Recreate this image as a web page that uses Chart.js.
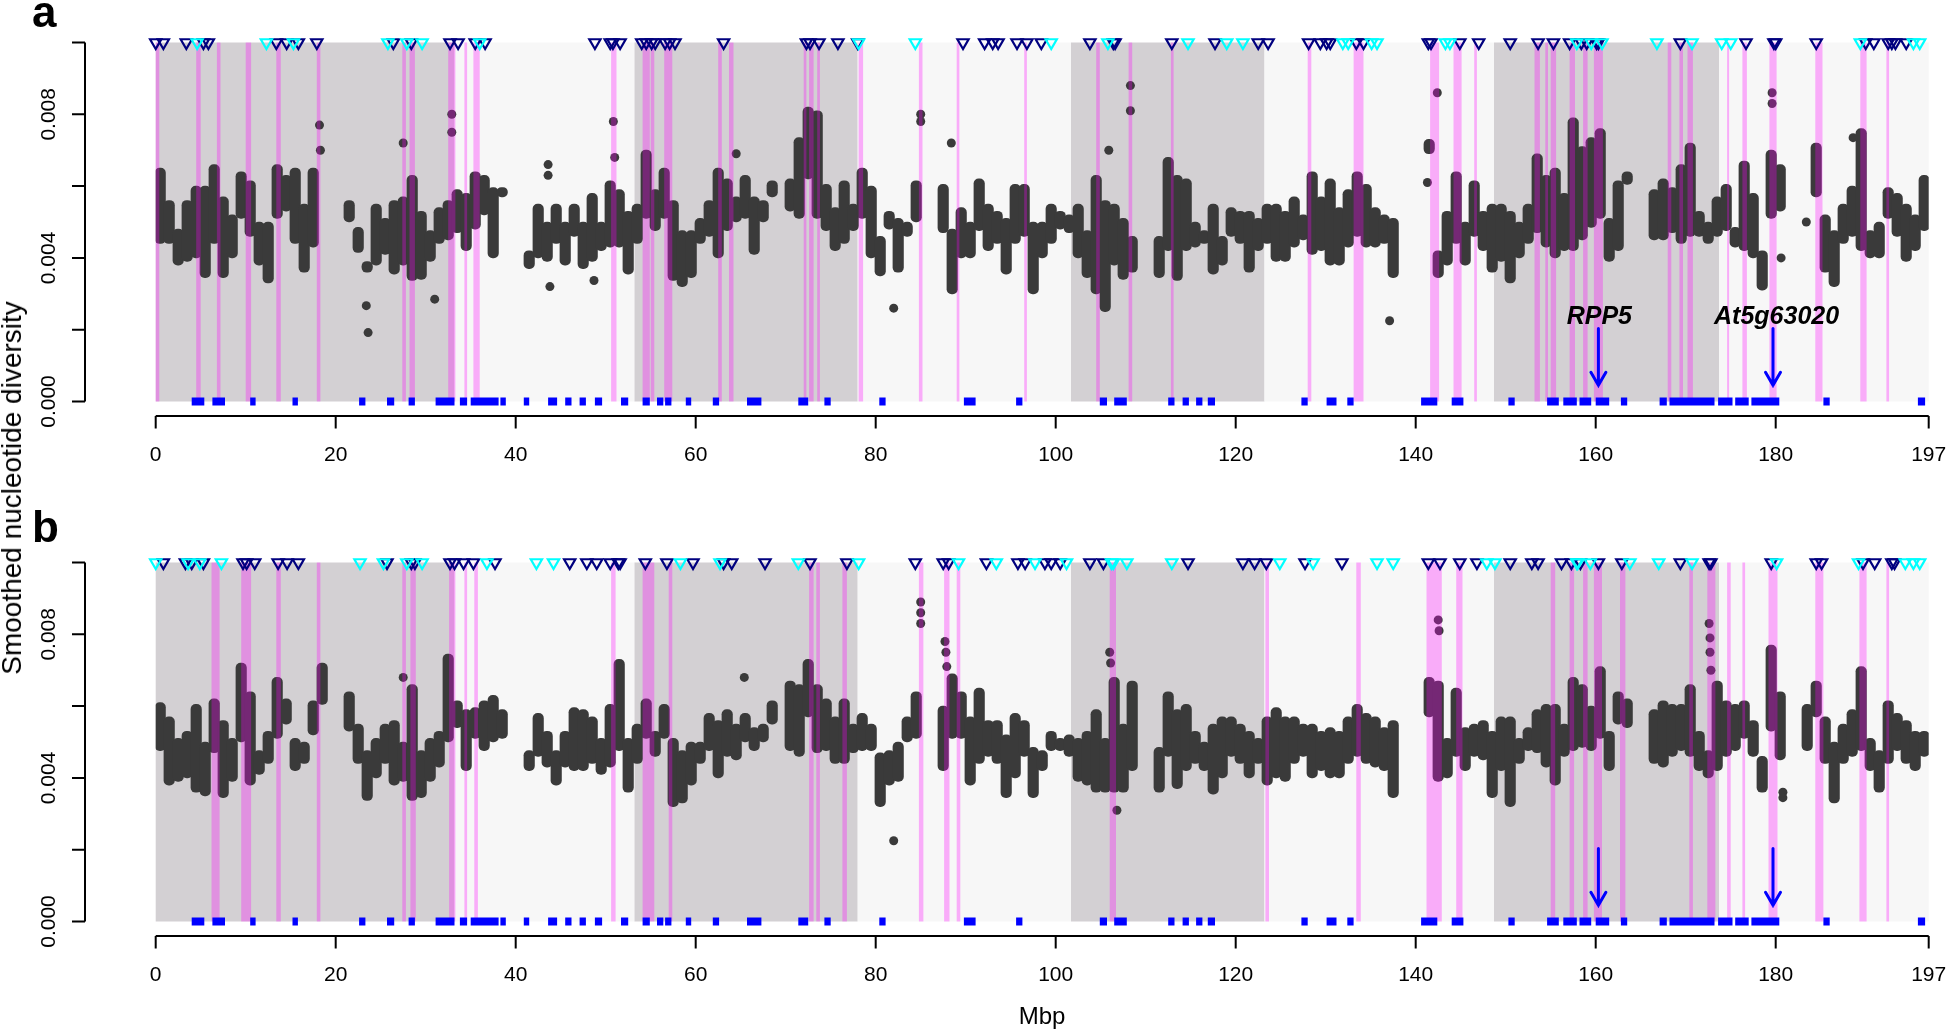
<!DOCTYPE html>
<html>
<head>
<meta charset="utf-8">
<script src="https://cdn.jsdelivr.net/npm/chart.js@4.4.1/dist/chart.umd.min.js"></script>
<style>
  html, body { margin: 0; padding: 0; background: #fff; }
  #fig { position: relative; width: 1946px; height: 1033px; overflow: hidden;
         font-family: "Liberation Sans", Arial, sans-serif; color: #000; }
  canvas { position: absolute; left: 0; }
  #ca { top: 0; }
  #cb { top: 520px; }
  .tag { position: absolute; left: 32px; font-size: 44px; font-weight: bold; line-height: 1; }
  .centered { position: absolute; white-space: nowrap; line-height: 1; transform: translate(-50%, -50%); }
  #ylab { left: 12px; top: 488px; font-size: 28px; transform: translate(-50%, -50%) rotate(-90deg); }
  #xlab { left: 1042px; top: 1016px; font-size: 24px; }
</style>
</head>
<body>
<div id="fig">
  <canvas id="ca" width="1946" height="513"></canvas>
  <canvas id="cb" width="1946" height="513"></canvas>
  <div class="tag" style="top:-10px">a</div>
  <div class="tag" style="top:505px">b</div>
  <div id="ylab" class="centered">Smoothed nucleotide diversity</div>
  <div id="xlab" class="centered">Mbp</div>
</div>
<script>
// axes
const xMin = 0, xMax = 197, yMax = 0.010;
const xTicks = [0, 20, 40, 60, 80, 100, 120, 140, 160, 180, 197];
const yTicks = [0, 0.002, 0.004, 0.006, 0.008, 0.010];
const yTickLabels = ['0.000', '', '0.004', '', '0.008', ''];

// chromosome shading boundaries (Mbp)
const chromBounds = [0, 33.2, 53.2, 78.0, 101.7, 123.2, 148.7, 173.7, 197];

// smoothed diversity, per 1 Mbp bin, low and high of the point cloud (x 1e-3)
const aLo = [4.4, 4.4, 3.8, 3.9, 4.0, 3.45, 4.4, 3.45, 4.0, 5.1,
  4.6, 3.8, 3.3, 5.1, 5.3, 4.4, 3.6, 4.3, null, null,
  null, 5.0, 4.15, 3.6, 3.8, 4.1, 3.55, 3.8, 3.37, 3.4,
  3.9, 4.4, 4.5, 4.7, 4.2, 4.8, 5.2, 4.0, 5.7, null,
  null, 3.7, 4.0, 3.9, 4.4, 3.8, 4.6, 3.7, 3.9, 4.2,
  4.3, 4.3, 3.55, 4.4, 5.1, 4.76, 5.1, 3.37, 3.2, 3.45,
  4.4, 4.6, 4.0, 4.76, 5.0, 5.1, 4.1, 5.0, 5.7, null,
  5.3, 5.1, 6.2, 5.1, 4.76, 4.2, 4.4, 4.76, 5.1, 4.0,
  3.5, 4.8, 3.6, 4.6, 5.0, null, null, 4.7, 3.0, 4.0,
  4.0, 4.76, 4.2, 4.4, 3.55, 4.4, 4.6, 3.0, 4.0, 4.4,
  4.8, 4.7, 4.0, 3.45, 3.0, 2.5, 3.8, 3.4, 3.6, null,
  null, 3.45, 4.2, 3.37, 4.2, 4.3, 4.4, 3.55, 3.8, 4.6,
  4.4, 3.6, 4.2, 4.4, 3.9, 3.9, 4.3, 4.5, 4.1, 4.2,
  3.8, 3.8, 4.3, 4.6, 4.3, 4.3, 4.4, 3.45, null, null,
  null, 6.9, 3.45, 3.8, 4.4, 3.8, 4.6, 4.2, 3.6, 3.9,
  3.3, 4.0, 4.4, 4.7, 4.3, 4.0, 4.2, 4.2, 4.5, 4.85,
  5.1, 3.9, 4.2, 6.05, null, null, 4.5, 4.5, 4.7, 4.4,
  4.6, 4.6, 4.4, 4.6, 4.76, 4.3, 4.2, 4.0, 3.1, 5.1,
  5.3, null, null, null, 5.7, 3.6, 3.2, 4.4, 4.6, 4.2,
  4.0, 4.0, 5.1, 4.6, 3.9, 4.2, 4.76];
const aHi = [6.5, 5.6, 4.8, 5.6, 6.0, 6.0, 6.6, 5.7, 5.2, 6.4,
  6.15, 5.0, 5.0, 6.6, 6.3, 6.5, 5.5, 6.5, null, null,
  null, 5.6, 4.85, 3.9, 5.5, 5.1, 5.6, 5.7, 6.3, 5.3,
  4.76, 5.4, 5.6, 5.9, 5.8, 6.4, 6.3, 5.96, 5.96, null,
  null, 4.2, 5.5, 5.0, 5.5, 5.0, 5.5, 5.0, 5.8, 5.0,
  6.15, 5.9, 5.3, 5.5, 7.0, 5.9, 6.5, 5.6, 4.76, 4.76,
  5.1, 5.6, 6.5, 6.2, 5.7, 6.3, 5.7, 5.6, 6.15, null,
  6.2, 7.35, 8.2, 8.1, 6.05, 5.4, 6.15, 5.5, 6.5, 6.0,
  4.6, 5.3, 5.1, 5.0, 6.15, null, null, 6.05, 4.8, 5.4,
  5.0, 6.2, 5.5, 5.3, 5.1, 6.05, 6.05, 5.0, 5.0, 5.5,
  5.3, 5.2, 5.5, 4.76, 6.3, 5.6, 5.5, 5.1, 4.6, null,
  null, 4.6, 6.8, 6.3, 6.2, 5.0, 4.76, 5.5, 4.6, 5.4,
  5.3, 5.3, 5.1, 5.5, 5.5, 5.3, 5.7, 5.2, 6.4, 5.7,
  6.2, 5.4, 5.9, 6.4, 6.05, 5.4, 5.2, 5.1, null, null,
  null, 7.3, 4.2, 5.3, 6.4, 5.0, 6.15, 5.3, 5.5, 5.5,
  5.3, 5.0, 5.5, 6.9, 6.3, 6.5, 5.8, 7.9, 7.1, 7.35,
  7.6, 5.1, 6.15, 6.4, null, null, 5.9, 6.2, 5.96, 6.6,
  7.2, 5.3, 5.0, 5.7, 6.05, 4.85, 6.7, 5.8, 4.2, 7.0,
  6.6, null, null, null, 7.2, 5.2, 4.76, 5.5, 6.0, 7.6,
  4.76, 5.0, 5.96, 5.8, 5.5, 5.2, 6.3];
const aOutX = [18.2, 18.3, 23.4, 23.6, 27.5, 31.0, 32.9, 32.9, 43.6, 43.6, 43.8, 48.7, 50.85, 51.0, 64.5,
  82.0, 85.0, 85.0, 88.4, 105.9, 108.3, 108.3, 137.1, 141.3, 142.4, 179.6, 179.6, 180.6, 183.4, 188.6];
const aOutY = [7.7, 7.0, 2.67, 1.92, 7.2, 2.85, 8.0, 7.5, 6.6, 6.3, 3.2, 3.37, 7.8, 6.8, 6.9,
  2.6, 8.0, 7.8, 7.2, 7.0, 8.8, 8.1, 2.25, 6.1, 8.6, 8.6, 8.3, 4.0, 5.0, 7.35];

const bLo = [4.76, 3.8, 3.9, 4.0, 3.6, 3.5, 4.7, 3.45, 3.9, 5.0,
  3.8, 4.1, 4.4, 5.1, 5.5, 4.2, 4.4, 5.2, 6.05, null,
  null, 5.3, 4.4, 3.37, 4.0, 4.4, 3.8, 3.9, 3.37, 3.45,
  3.9, 4.3, 5.0, 5.4, 4.2, 5.1, 4.76, 5.0, 5.1, null,
  null, 4.2, 4.6, 4.3, 3.8, 4.3, 4.2, 4.2, 4.4, 4.1,
  4.3, 4.76, 3.6, 4.4, 5.1, 4.6, 5.1, 3.2, 3.3, 3.8,
  4.4, 4.76, 4.0, 4.6, 4.5, 5.0, 4.76, 5.0, 5.5, null,
  4.76, 4.6, 5.7, 4.7, 4.76, 4.4, 4.4, 4.7, 4.76, 4.76,
  3.2, 3.8, 3.9, 5.0, 5.1, null, null, 4.2, 5.1, 5.1,
  3.8, 4.4, 4.6, 4.4, 3.45, 4.0, 4.6, 3.45, 4.2, 4.76,
  4.76, 4.6, 3.9, 3.8, 3.6, 3.6, 3.6, 3.6, 4.2, null,
  null, 3.6, 4.6, 3.7, 4.2, 4.4, 4.2, 3.55, 4.0, 4.6,
  4.4, 4.0, 4.4, 3.8, 4.0, 3.9, 4.4, 4.6, 4.0, 4.2,
  4.0, 4.0, 4.4, 4.6, 4.4, 4.3, 4.2, 3.45, null, null,
  null, 5.7, 3.9, 4.0, 4.6, 4.2, 4.6, 4.5, 3.45, 4.2,
  3.2, 4.4, 4.76, 4.7, 4.3, 3.8, 4.6, 4.76, 4.85, 4.76,
  5.1, 4.2, 5.5, 5.4, null, null, 4.4, 4.3, 4.6, 4.76,
  4.6, 4.2, 4.0, 4.2, 4.6, 4.76, 5.1, 4.6, 3.6, 5.3,
  4.5, null, null, 4.76, 5.7, 4.4, 3.3, 4.4, 4.6, 4.76,
  4.2, 3.6, 4.4, 4.76, 4.4, 4.2, 4.6];
const bHi = [6.1, 5.7, 5.1, 5.3, 6.05, 5.0, 6.2, 5.6, 5.1, 7.2,
  6.4, 4.76, 5.3, 6.8, 6.2, 5.1, 5.0, 6.15, 7.2, null,
  null, 6.4, 5.5, 4.76, 5.1, 5.5, 5.6, 5.0, 6.6, 4.76,
  5.1, 5.3, 7.45, 6.15, 5.9, 5.96, 6.15, 6.3, 5.9, null,
  null, 4.76, 5.8, 5.3, 4.76, 5.3, 5.96, 5.9, 5.7, 5.1,
  6.05, 7.3, 5.1, 5.5, 6.2, 5.3, 6.05, 5.1, 4.76, 5.0,
  5.0, 5.8, 5.6, 5.9, 5.5, 5.8, 5.4, 5.5, 6.15, null,
  6.7, 6.6, 7.3, 6.6, 6.2, 5.7, 6.2, 5.5, 5.8, 5.5,
  4.7, 4.76, 5.0, 5.7, 6.4, null, null, 6.0, 6.9, 6.4,
  5.7, 6.5, 5.6, 5.6, 5.2, 5.8, 5.6, 4.85, 4.76, 5.3,
  5.1, 5.2, 5.1, 5.3, 5.9, 5.1, 6.8, 5.5, 6.7, null,
  null, 4.85, 6.4, 5.9, 6.05, 5.3, 5.0, 5.5, 5.7, 5.7,
  5.5, 5.3, 5.1, 5.7, 5.96, 5.7, 5.7, 5.5, 5.5, 5.3,
  5.4, 5.3, 5.7, 6.05, 5.8, 5.7, 5.4, 5.6, null, null,
  null, 6.8, 6.7, 5.1, 6.5, 5.4, 5.5, 5.6, 5.3, 5.7,
  5.7, 5.1, 5.4, 5.9, 6.05, 6.05, 5.5, 6.8, 6.6, 6.0,
  7.1, 5.3, 6.4, 6.2, null, null, 5.9, 6.15, 6.05, 6.05,
  6.6, 5.3, 4.76, 6.7, 6.15, 6.05, 6.15, 5.6, 4.6, 7.7,
  6.4, null, null, 6.05, 6.7, 5.7, 5.0, 5.5, 5.9, 7.1,
  5.1, 4.76, 6.15, 5.8, 5.6, 5.3, 5.3];
const bOutX = [27.5, 65.4, 82.0, 85.0, 85.0, 85.0, 87.7, 87.8, 87.9, 106.0, 106.1, 106.8,
  142.5, 142.6, 172.6, 172.7, 172.7, 172.8, 180.8, 180.8];
const bOutY = [6.8, 6.8, 2.25, 8.9, 8.6, 8.3, 7.8, 7.5, 7.1, 7.5, 7.2, 3.1,
  8.4, 8.1, 8.3, 7.9, 7.5, 7.0, 3.6, 3.45];

// top markers (Mbp)
const aNavy = [0.0, 0.85, 3.4, 5.3, 5.85, 13.4, 14.55, 15.85, 17.9, 26.4, 28.4, 32.7, 33.6, 35.5, 36.6,
  48.8, 50.5, 50.8, 51.6, 54.0, 54.5, 55.1, 55.5, 56.6, 57.1, 57.7, 63.1, 72.3, 72.7, 73.7, 75.8, 78.0,
  89.7, 92.1, 93.0, 93.6, 95.7, 96.8, 98.4, 103.8, 106.4, 106.6, 112.9, 117.7, 122.5, 123.6, 128.1,
  129.4, 130.1, 130.5, 133.4, 134.2, 141.4, 141.7, 144.9, 147.0, 150.5, 153.6, 155.3, 157.1, 158.4,
  159.0, 160.1, 160.3, 169.4, 176.7, 179.8, 180.0, 184.5, 190.0, 190.9, 192.5, 192.9, 193.3, 194.5];
const aCyan = [4.6, 12.3, 15.3, 25.8, 27.9, 29.6, 36.0, 78.1, 84.4, 99.5, 105.8, 114.7, 119.0, 120.8,
  131.9, 132.5, 135.1, 135.7, 143.3, 143.8, 157.9, 159.5, 160.7, 166.8, 170.7, 174.0, 175.0, 189.4,
  195.3, 196.0];
const bNavy = [0.85, 3.3, 4.0, 5.3, 9.7, 10.1, 11.0, 13.6, 14.6, 15.85, 25.7, 28.4, 28.8, 32.7, 33.2,
  34.2, 35.3, 37.7, 46.0, 47.9, 49.0, 50.5, 51.4, 51.6, 54.4, 56.8, 59.7, 63.1, 64.0, 67.7, 72.7, 76.8,
  84.4, 87.5, 88.1, 92.3, 95.8, 96.6, 98.8, 99.5, 100.5, 103.8, 105.3, 114.7, 120.8, 122.1, 123.4,
  127.7, 131.8, 141.4, 142.7, 144.9, 146.8, 150.5, 152.9, 153.6, 156.2, 157.3, 158.3, 160.3, 162.9,
  169.4, 172.6, 172.8, 179.5, 184.5, 185.1, 189.7, 191.0, 192.9, 193.2];
const bCyan = [0.0, 3.6, 4.9, 7.3, 22.7, 25.3, 27.9, 29.6, 36.8, 42.3, 44.2, 58.3, 62.7, 71.4, 78.1,
  89.2, 93.4, 97.7, 101.2, 106.2, 106.4, 107.9, 112.9, 124.9, 128.6, 135.7, 137.5, 147.9, 148.8, 157.9,
  158.0, 159.4, 163.8, 167.0, 170.7, 180.1, 189.2, 194.4, 195.3, 196.0];

// highlighted windows (Mbp)
const aBands = [[0, 0.4], [4.5, 5.0], [6.8, 7.2], [10.0, 10.6], [13.4, 13.9], [17.9, 18.3], [27.4, 27.8],
  [28.2, 28.8], [32.5, 33.3], [34.3, 34.6], [35.3, 36.0], [50.6, 51.2], [54.1, 54.9], [55.0, 55.4],
  [56.5, 57.4], [62.5, 62.9], [63.7, 64.2], [72.0, 72.3], [72.6, 73.1], [73.5, 73.8], [78.1, 78.6],
  [84.8, 85.2], [89.0, 89.3], [96.5, 96.8], [104.5, 104.9], [108.1, 108.5], [112.8, 113.1],
  [128.0, 128.4], [133.1, 134.2], [141.6, 142.6], [144.2, 145.1], [146.5, 146.8], [153.2, 153.8],
  [154.4, 154.7], [155.0, 155.6], [157.1, 157.7], [158.6, 159.1], [159.8, 160.8], [168.0, 168.4],
  [169.3, 169.7], [170.2, 170.8], [174.6, 174.8], [176.3, 176.8], [179.3, 180.1], [184.4, 185.2],
  [189.4, 190.1], [192.3, 192.6]];
const bBands = [[6.2, 7.1], [9.5, 10.6], [13.4, 13.9], [17.9, 18.3], [27.4, 27.8], [28.3, 28.9],
  [32.6, 33.3], [34.3, 34.6], [35.4, 35.8], [50.6, 51.1], [54.1, 55.4], [57.0, 57.4], [72.6, 73.1],
  [73.4, 73.8], [76.3, 76.8], [84.8, 85.3], [87.6, 88.2], [89.0, 89.4], [106.0, 106.7], [123.3, 123.7],
  [133.4, 133.9], [141.2, 142.9], [144.5, 145.2], [155.0, 155.5], [157.1, 157.6], [158.6, 159.1],
  [159.8, 160.7], [162.7, 163.3], [170.4, 170.8], [172.4, 173.3], [174.6, 175.0], [176.3, 176.6],
  [179.2, 180.2], [184.4, 185.3], [189.3, 190.1], [192.3, 192.6]];

// blue blocks along the baseline (Mbp)
const blocks = [[4.0, 5.4], [6.3, 7.7], [10.5, 11.1], [15.2, 15.8], [22.6, 23.3], [25.7, 26.5], [28.1, 28.8],
  [31.1, 33.2], [33.8, 34.6], [35.0, 38.1], [38.3, 38.9], [40.9, 41.5], [43.6, 44.6], [45.5, 46.2],
  [47.1, 47.8], [48.8, 49.6], [51.7, 52.5], [54.1, 54.9], [55.7, 56.4], [56.6, 57.3], [58.9, 59.5],
  [61.9, 62.6], [65.7, 67.3], [71.4, 72.5], [74.3, 75.0], [80.4, 81.1], [89.8, 91.1], [95.6, 96.3],
  [104.9, 105.7], [106.5, 107.9], [112.5, 113.2], [114.1, 114.8], [115.6, 116.3], [116.9, 117.7],
  [127.3, 128.0], [130.1, 131.2], [132.4, 133.1], [140.6, 142.4], [144.0, 145.3], [150.3, 151.0],
  [154.6, 155.9], [156.4, 157.9], [158.2, 159.5], [160.0, 161.5], [162.8, 163.5], [167.1, 167.9],
  [168.2, 173.2], [173.6, 175.2], [175.5, 177.0], [177.3, 180.4], [185.3, 186.0], [195.8, 196.6]];

// genes
const geneNames = ['RPP5', 'At5g63020'];
const geneX = [160.3, 179.7];
const geneLabelX = [160.4, 180.1];
const geneLabelY = 0.00235;
const arrowFrom = 0.00203, arrowTo = 0.00045;

const dotColor = '#3a3a3a';

const px = (chart, v) => chart.scales.x.getPixelForValue(v);
const py = (chart, v) => chart.scales.y.getPixelForValue(v);

const backdrop = {
  id: 'backdrop',
  beforeDatasetsDraw(chart) {
    const ctx = chart.ctx;
    const yTop = py(chart, yMax), yBot = py(chart, 0);
    ctx.save();
    for (let i = 0; i < chromBounds.length - 1; i++) {
      ctx.fillStyle = i % 2 === 0 ? '#d3d0d3' : '#f7f7f7';
      const x0 = px(chart, chromBounds[i]), x1 = px(chart, chromBounds[i + 1]);
      ctx.fillRect(x0, yTop, x1 - x0, yBot - yTop);
    }
    ctx.restore();
  }
};

// bands go over the dots but under the triangles
const highlights = {
  id: 'highlights',
  afterDatasetDraw(chart, args, opts) {
    if (args.index !== 2) return;
    const ctx = chart.ctx;
    const yTop = py(chart, yMax), y0 = py(chart, 0);
    ctx.save();
    ctx.fillStyle = 'rgba(255, 0, 255, 0.3)';
    opts.bands.forEach(([a, b]) => {
      const x0 = px(chart, a), x1 = px(chart, b);
      ctx.fillRect(x0, yTop, Math.max(x1 - x0, 2), y0 - yTop);
    });
    ctx.fillStyle = '#0000ff';
    blocks.forEach(([a, b]) => {
      const x0 = px(chart, a), x1 = px(chart, b);
      ctx.fillRect(x0, y0 - 4, x1 - x0, 8);
    });
    ctx.restore();
  },
  afterDatasetsDraw(chart, args, opts) {
    const ctx = chart.ctx;
    ctx.save();
    ctx.strokeStyle = '#0000ff';
    ctx.lineWidth = 3;
    ctx.lineCap = 'round';
    geneX.forEach(g => {
      const x = px(chart, g), ys = py(chart, arrowFrom), ye = py(chart, arrowTo);
      ctx.beginPath();
      ctx.moveTo(x, ys); ctx.lineTo(x, ye);
      ctx.moveTo(x - 7.5, ye - 13); ctx.lineTo(x, ye); ctx.lineTo(x + 7.5, ye - 13);
      ctx.stroke();
    });
    if (opts.genes) {
      ctx.fillStyle = '#000';
      ctx.font = 'italic bold 25px "Liberation Sans", Arial, sans-serif';
      ctx.textAlign = 'center';
      ctx.textBaseline = 'middle';
      geneNames.forEach((n, i) => ctx.fillText(n, px(chart, geneLabelX[i]), py(chart, geneLabelY)));
    }
    ctx.restore();
  }
};

// R style axes, set off from the plot region
const rAxes = {
  id: 'rAxes',
  afterDraw(chart) {
    const ctx = chart.ctx, area = chart.chartArea;
    const xa = area.bottom + 14.5;
    const ya = area.left - 70.7;
    ctx.save();
    ctx.strokeStyle = '#000';
    ctx.fillStyle = '#000';
    ctx.lineWidth = 2;
    ctx.beginPath();
    ctx.moveTo(px(chart, xMin), xa); ctx.lineTo(px(chart, xMax), xa);
    xTicks.forEach(t => { const x = px(chart, t); ctx.moveTo(x, xa); ctx.lineTo(x, xa + 12.5); });
    ctx.moveTo(ya, py(chart, 0)); ctx.lineTo(ya, py(chart, yMax));
    yTicks.forEach(t => { const y = py(chart, t); ctx.moveTo(ya, y); ctx.lineTo(ya - 13, y); });
    ctx.stroke();
    ctx.font = '21px "Liberation Sans", Arial, sans-serif';
    ctx.textAlign = 'center';
    ctx.textBaseline = 'middle';
    xTicks.forEach(t => ctx.fillText(String(t), px(chart, t), xa + 39));
    yTicks.forEach((t, i) => {
      if (!yTickLabels[i]) return;
      ctx.save();
      ctx.translate(ya - 30, py(chart, t));
      ctx.rotate(-Math.PI / 2);
      ctx.textBaseline = 'alphabetic';
      ctx.fillText(yTickLabels[i], 0, 0);
      ctx.restore();
    });
    ctx.restore();
  }
};

function drawPanel(id, lo, hi, outX, outY, navy, cyan, bands, genes) {
  const ranges = [];
  lo.forEach((v, i) => {
    if (v !== null) ranges.push({ x: i + 0.5, y: [v / 1000, hi[i] / 1000] });
  });
  const outliers = outX.map((x, i) => ({ x: x, y: outY[i] / 1000 }));
  const tri = xs => xs.map(x => ({ x: x, y: yMax }));
  const triStyle = color => ({
    type: 'scatter', pointStyle: 'triangle', pointRotation: 180, pointRadius: 6.5,
    pointBorderWidth: 2.2, pointBorderColor: color, pointBackgroundColor: 'rgba(0,0,0,0)', clip: false
  });

  return new Chart(document.getElementById(id), {
    type: 'scatter',
    data: {
      datasets: [
        Object.assign({ data: tri(cyan) }, triStyle('#00ffff')),
        Object.assign({ data: tri(navy) }, triStyle('#00007f')),
        { type: 'scatter', data: outliers, pointRadius: 4.5, pointBorderWidth: 0, pointBackgroundColor: dotColor },
        { type: 'bar', data: ranges, backgroundColor: dotColor, barThickness: 10.5,
          borderRadius: 5, borderSkipped: false }
      ]
    },
    options: {
      responsive: false,
      animation: false,
      events: [],
      layout: { padding: { left: 155.7, right: 17.3, top: 42.5, bottom: 111.5 } },
      plugins: {
        legend: { display: false },
        tooltip: { enabled: false },
        highlights: { bands: bands, genes: genes }
      },
      scales: {
        x: { type: 'linear', min: xMin, max: xMax, display: false, offset: false },
        y: { type: 'linear', min: 0, max: yMax, display: false }
      }
    },
    plugins: [backdrop, highlights, rAxes]
  });
}

drawPanel('ca', aLo, aHi, aOutX, aOutY, aNavy, aCyan, aBands, true);
drawPanel('cb', bLo, bHi, bOutX, bOutY, bNavy, bCyan, bBands, false);
</script>
</body>
</html>
